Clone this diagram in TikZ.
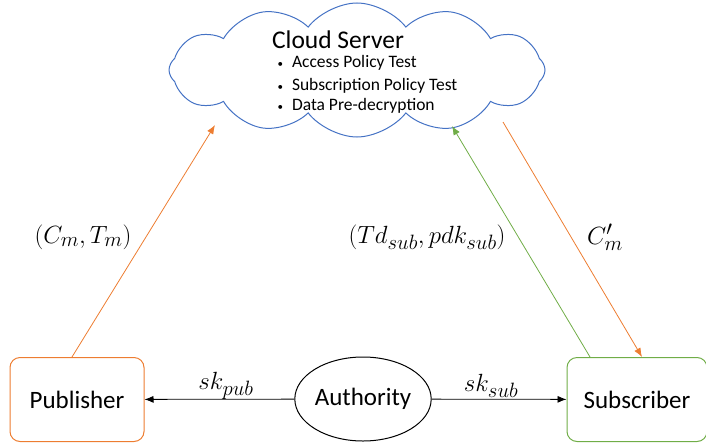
\documentclass[tikz,border=0pt]{standalone}
\usepackage{amsmath}
\usepackage{fontspec}
\setmainfont{Carlito}
\usetikzlibrary{arrows.meta,shapes.symbols,shapes.geometric}

\definecolor{pubcol}{HTML}{ED7D31}
\definecolor{subcol}{HTML}{70AD47}
\definecolor{cloudcol}{HTML}{4472C4}

\newcommand{\blt}{{\fontsize{11}{11}\selectfont\textbullet}\hspace{9pt}}

\begin{document}
\begin{tikzpicture}[x=1pt,y=-1pt,
    party/.style={draw, rounded corners=10pt, line width=1pt, minimum width=134pt,
                  minimum height=84pt, font=\fontsize{25}{30}\selectfont},
    lbl/.style={font=\fontsize{28.5}{32}\selectfont},
    item/.style={anchor=west, font=\fontsize{17.5}{20}\selectfont},
    tip/.style={-{Latex[length=9pt,width=7pt]}, line width=0.8pt}]

\useasboundingbox (0,0) rectangle (706,442);

% cloud server
\node [cloud, draw=cloudcol, line width=1pt, cloud puffs=12, cloud puff arc=105,
       cloud ignores aspect, minimum width=376pt, minimum height=134pt] (cloud) at (357,70) {};
\node [font=\fontsize{25.5}{30}\selectfont] (title) at (338,40) {Cloud Server};
\node [item] (t1) at (274,63)  {\blt Access Policy Test};
\node [item] (t2) at (274,86)  {\blt Subscription Policy Test};
\node [item] (t3) at (274,106) {\blt Data Pre-decryption};

\coordinate (in1) at (215,125);
\coordinate (in2) at (452,126);
\coordinate (out) at (503,122);

% parties
\node [party, draw=pubcol] (pub) at (77,399.5) {Publisher};
\node [party, draw=subcol, minimum width=140pt] (sub) at (637,399.5) {Subscriber};
\node [draw, ellipse, line width=1pt, inner sep=0pt, minimum width=127pt, minimum height=84pt,
       font=\fontsize{25}{30}\selectfont] (auth) at (363,399) {Authority};

% keys
\draw [tip] (auth) -- (pub);
\draw [tip] (auth) -- (sub);
\node [lbl] (skp) at (226,386) {$sk_{pub}$};
\node [lbl] (sks) at (491,386) {$sk_{sub}$};

% ciphertexts and tokens
\draw [tip, draw=pubcol] ([xshift=-5pt]pub.north) -- (in1);
\draw [tip, draw=subcol] ([xshift=-47pt]sub.north) -- (in2);
\draw [tip, draw=pubcol] (out) -- ([xshift=5pt]sub.north);

\node [lbl] (ct) at (83,237)  {$(C_m,T_m)$};
\node [lbl] (td) at (427,237) {$(Td_{sub},pdk_{sub})$};
\node [lbl] (cm) at (605,237) {$C'_m$};

\end{tikzpicture}
\end{document}
